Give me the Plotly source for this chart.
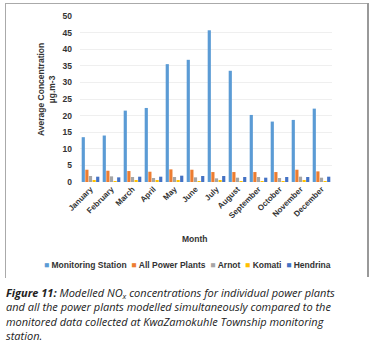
import plotly.graph_objects as go

months = ["January", "February", "March", "April", "May", "June", "July",
          "August", "September", "October", "November", "December"]
monitoring = [13.5, 14.0, 21.5, 22.3, 35.5, 36.8, 45.7, 33.5, 20.2, 18.2, 18.7, 22.1]
all_plants = [3.7, 3.4, 3.3, 3.1, 3.8, 3.7, 3.0, 3.0, 3.0, 3.0, 3.7, 3.2]
arnot = [1.8, 1.7, 1.5, 1.2, 1.5, 1.4, 1.1, 1.3, 1.5, 1.2, 1.6, 1.3]
komati = [0.5, 0.2, 0.4, 0.4, 0.5, 0.3, 0.4, 0.3, 0.2, 0.2, 0.4, 0.3]
hendrina = [1.6, 1.4, 1.6, 1.6, 1.9, 1.8, 1.8, 1.5, 1.3, 1.5, 1.5, 1.6]
y_ticks = [0, 5, 10, 15, 20, 25, 30, 35, 40, 45, 50]

series = [
    ("Monitoring Station", monitoring, "#5B9BD5"),
    ("All Power Plants", all_plants, "#ED7D31"),
    ("Arnot", arnot, "#A5A5A5"),
    ("Komati", komati, "#FFC000"),
    ("Hendrina", hendrina, "#4472C4"),
]

fig = go.Figure()
for name, vals, col in series:
    fig.add_trace(go.Bar(x=months, y=vals, name=name, marker_color=col,
                         marker_line_width=0, showlegend=False))

W, H = 379, 342
L, R, T, B = 80, 332, 16, 182
pw, ph = R - L, B - T

def px(x):
    return (x - L) / pw

def py(y):
    return (B - y) / ph

TXT = "#333333"
FONT = "Liberation Sans, Arial"

fig.update_layout(
    width=W, height=H,
    margin=dict(l=L, r=W - R, t=T, b=H - B, pad=0),
    paper_bgcolor="white", plot_bgcolor="white",
    barmode="group", bargap=0.14, bargroupgap=0.12,
    showlegend=False,
    font=dict(family=FONT, size=8, color=TXT),
    xaxis=dict(tickangle=-45, showgrid=False, showline=False, ticks="",
               tickvals=months, ticktext=["<b>" + m + "</b>" for m in months],
               tickfont=dict(family=FONT, size=8, color=TXT)),
    yaxis=dict(range=[0, 50], tickvals=y_ticks,
               ticktext=["<b>%d</b>" % v for v in y_ticks],
               showgrid=True, gridcolor="#EFEFEF",
               gridwidth=1, zeroline=False, showline=False, ticks="",
               tickfont=dict(family=FONT, size=8.5, color=TXT),
               ticklabelstandoff=7),
)

# axis titles
fig.add_annotation(text="<b>Month</b>", xref="paper", yref="paper",
                   x=px(195), y=py(239), xanchor="center", yanchor="middle",
                   showarrow=False, font=dict(family=FONT, size=8.5, color=TXT))
fig.add_annotation(text="<b>Average Concentration<br>µg.m-3</b>", xref="paper", yref="paper",
                   x=px(46), y=py(90), xanchor="center", yanchor="middle", textangle=-90,
                   showarrow=False, font=dict(family=FONT, size=8.5, color=TXT))

# legend drawn as a single line of text
parts = []
for name, vals, col in series:
    parts.append('<span style="color:%s">■</span> <b>%s</b>' % (col, name))
legend_text = "\u00a0\u00a0".join(parts)
fig.add_annotation(text=legend_text, xref="paper", yref="paper",
                   x=px(187), y=py(265), xanchor="center", yanchor="middle",
                   showarrow=False, font=dict(family=FONT, size=8.5, color=TXT))

# outer frame of the chart box
fig.add_shape(type="line", xref="paper", yref="paper",
              x0=px(5), x1=px(368), y0=py(3.5), y1=py(3.5),
              line=dict(color="#AAAAAA", width=1))
fig.add_shape(type="line", xref="paper", yref="paper",
              x0=px(5.5), x1=px(5.5), y0=py(3), y1=py(278),
              line=dict(color="#AAAAAA", width=1))
fig.add_shape(type="line", xref="paper", yref="paper",
              x0=px(368), x1=px(368), y0=py(3), y1=py(277),
              line=dict(color="#999999", width=2))

caption_lines = [
    "<b>Figure 11:</b> Modelled NO<sub>x</sub> concentrations for individual power plants",
    "and all the power plants modelled simultaneously compared to the",
    "monitored data collected at KwaZamokuhle Township monitoring",
    "station.",
]
fig.add_annotation(text="<i>" + "<br>".join(caption_lines) + "</i>", xref="paper", yref="paper",
                   x=px(4), y=py(283), xanchor="left", yanchor="top", align="left",
                   showarrow=False,
                   font=dict(family="Open Sans", size=11, color="#222222"))

fig.write_html("out.html", config={"displayModeBar": False},
               post_script="document.body.style.margin='0';")
